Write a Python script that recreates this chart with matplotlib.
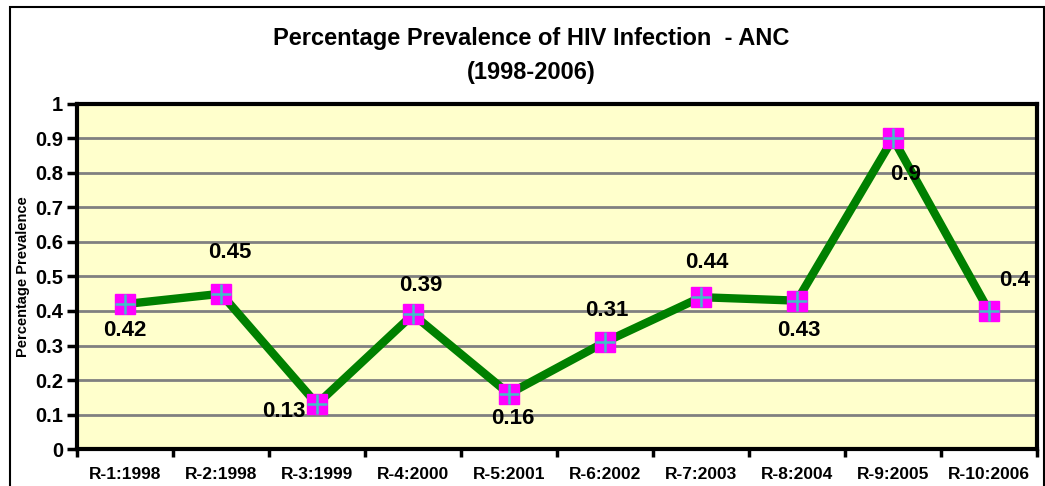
import matplotlib
matplotlib.use("Agg")
import matplotlib.pyplot as plt
from matplotlib.patches import Rectangle

# values
rounds = ['R-1:1998', 'R-2:1998', 'R-3:1999', 'R-4:2000', 'R-5:2001',
          'R-6:2002', 'R-7:2003', 'R-8:2004', 'R-9:2005', 'R-10:2006']
prevalence = [0.42, 0.45, 0.13, 0.39, 0.16, 0.31, 0.44, 0.43, 0.9, 0.4]
y_ticks = [0, 0.1, 0.2, 0.3, 0.4, 0.5, 0.6, 0.7, 0.8, 0.9, 1]
y_tick_labels = ['0', '0.1', '0.2', '0.3', '0.4', '0.5', '0.6', '0.7', '0.8', '0.9', '1']

# label offsets in pixels (dx, dy)
label_offsets = [(0, -26), (9, 41), (-33, -7), (8, 29), (4, -25),
                 (2, 32), (6, 35), (2, -30), (13, -36), (26, 31)]

plt.rcParams['font.family'] = ['Liberation Sans', 'DejaVu Sans']
plt.rcParams['font.weight'] = 'bold'

fig = plt.figure(figsize=(10.45, 4.86), dpi=100)
ax = fig.add_axes([77 / 1045, 1 - 449 / 486, 960 / 1045, 345 / 486])

# outer chart frame
fig.patches.append(Rectangle((10 / 1045, -0.1), 1034 / 1045, 1.1 - 7 / 486,
                             transform=fig.transFigure, fill=False,
                             edgecolor='black', linewidth=1.5))

ax.set_facecolor('#FFFFCC')
x = list(range(len(rounds)))
ax.plot(x, prevalence, color='#008000', linewidth=6, zorder=3)
ax.plot(x, prevalence, linestyle='none', marker='s', markersize=15,
        markerfacecolor='#FF00FF', markeredgecolor='#FF00FF', zorder=4)
ax.plot(x, prevalence, linestyle='none', marker='+', markersize=14,
        markeredgewidth=1.8, color='#40C0C8', zorder=5)

for i, v in enumerate(prevalence):
    dx, dy = label_offsets[i]
    ax.annotate(f'{v:g}', (i, v), xytext=(dx, dy), textcoords='offset pixels',
                ha='center', va='center', fontsize=16, fontweight='bold')

ax.set_xlim(-0.5, len(rounds) - 0.5)
ax.set_ylim(0, 1)
ax.set_yticks(y_ticks)
ax.set_yticklabels(y_tick_labels, fontsize=14.5, fontweight='bold')
ax.set_xticks(x)
ax.set_xticklabels(rounds, fontsize=12.5, fontweight='bold')
ax.set_xticks([i - 0.5 for i in range(len(rounds) + 1)], minor=True)
ax.tick_params(axis='x', which='major', length=0, pad=13)
ax.tick_params(axis='x', which='minor', length=6, width=2.5, direction='out')
ax.tick_params(axis='y', length=7, width=2.5, direction='out', pad=3)

ax.yaxis.grid(True, color='#808080', linewidth=2)
ax.set_axisbelow(True)
for s in ax.spines.values():
    s.set_linewidth(3)
    s.set_color('black')

ax.set_ylabel('Percentage Prevalence', fontsize=10.5, fontweight='bold')
ax.yaxis.set_label_coords(-0.049, 0.5)

fig.text(531 / 1045, 1 - 38 / 486, 'Percentage Prevalence of HIV Infection  - ANC',
         ha='center', va='center', fontsize=17, fontweight='bold')
fig.text(531 / 1045, 1 - 72 / 486, '(1998-2006)',
         ha='center', va='center', fontsize=17, fontweight='bold')

fig.savefig('out.png', dpi=100)
